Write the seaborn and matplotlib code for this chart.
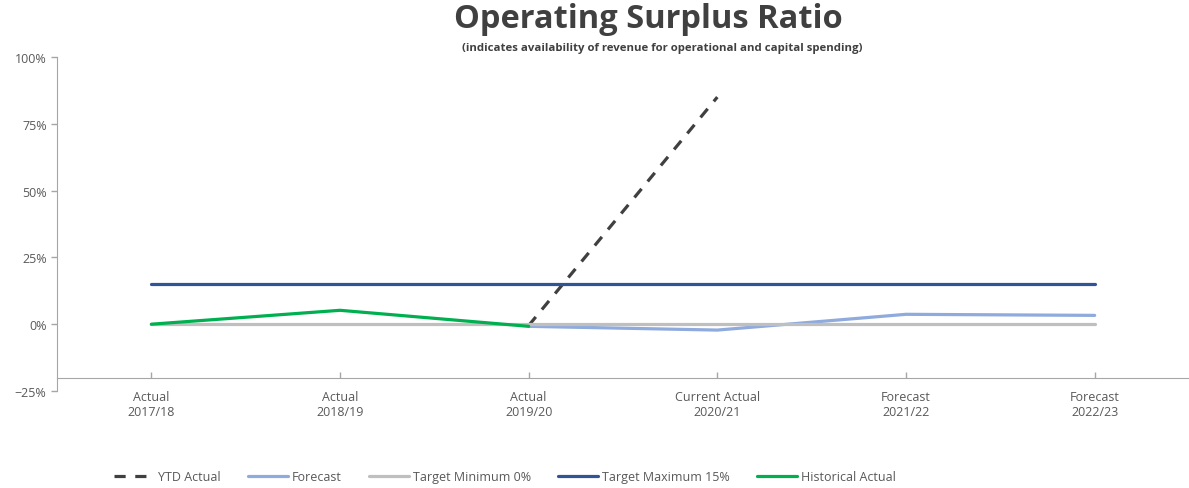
import pandas as pd
import matplotlib
matplotlib.use("Agg")
import matplotlib.pyplot as plt
import seaborn as sns
from matplotlib.ticker import PercentFormatter

# chart data (ratios in %)
categories = ["Actual\n2017/18", "Actual\n2018/19", "Actual\n2019/20",
              "Current Actual\n2020/21", "Forecast\n2021/22", "Forecast\n2022/23"]
ytd_actual = [None, None, -0.5, 85.0, None, None]
forecast = [None, None, -0.8, -2.2, 3.7, 3.3]
target_min = [0, 0, 0, 0, 0, 0]
target_max = [15, 15, 15, 15, 15, 15]
historical = [0.0, 5.2, -0.8, None, None, None]

series = [
    ("YTD Actual", ytd_actual, "#404040", (0, (3.5, 3))),
    ("Forecast", forecast, "#8FAADC", "-"),
    ("Target Minimum 0%", target_min, "#BFBFBF", "-"),
    ("Target Maximum 15%", target_max, "#2F5597", "-"),
    ("Historical Actual", historical, "#00B050", "-"),
]

sns.set_style("white")
plt.rcParams["font.family"] = ["Open Sans", "DejaVu Sans"]

fig = plt.figure(figsize=(11.89, 4.89), dpi=100)
ax = fig.add_axes([57 / 1189, 1 - 392 / 489, 1 - 57 / 1189, (392 - 58) / 489])

x = list(range(len(categories)))
for name, vals, color, ls in series:
    df = pd.DataFrame({"x": x, "y": vals}).dropna()
    sns.lineplot(data=df, x="x", y="y", ax=ax, color=color, linewidth=2.3,
                 linestyle=ls, label=name, sort=False)

ax.set_xlim(-0.5, 5.5)
ax.set_ylim(-25, 100)
ax.set_yticks([-25, 0, 25, 50, 75, 100])
ax.yaxis.set_major_formatter(PercentFormatter(decimals=0))
ax.set_xticks(x)
ax.set_xticklabels(categories)
ax.set_xlabel("")
ax.set_ylabel("")

for s in ["top", "right"]:
    ax.spines[s].set_visible(False)
ax.spines["left"].set_color("#A6A6A6")
ax.spines["bottom"].set_color("#A6A6A6")
ax.spines["bottom"].set_position(("data", -20))
ax.tick_params(axis="both", colors="#A6A6A6", labelcolor="#595959",
               labelsize=9, length=4, width=1, direction="out", left=True, bottom=True)
ax.tick_params(axis="x", direction="in", pad=9)

ax.get_legend().remove()
handles, labels = ax.get_legend_handles_labels()
fig.legend(handles, labels, loc="center", bbox_to_anchor=(505 / 1189, 1 - 478 / 489),
           ncol=5, frameon=False, fontsize=9, handlelength=3.2, columnspacing=2.2,
           handletextpad=0.3, labelcolor="#595959")

fig.text(648 / 1189, 1 - 20 / 489, "Operating Surplus Ratio", ha="center", va="center",
         fontsize=23.5, fontweight="bold", color="#404040")
fig.text(662 / 1189, 1 - 48 / 489,
         "(indicates availability of revenue for operational and capital spending)",
         ha="center", va="center", fontsize=8.2, fontweight="bold", color="#404040")

fig.savefig("out.png", dpi=100)
